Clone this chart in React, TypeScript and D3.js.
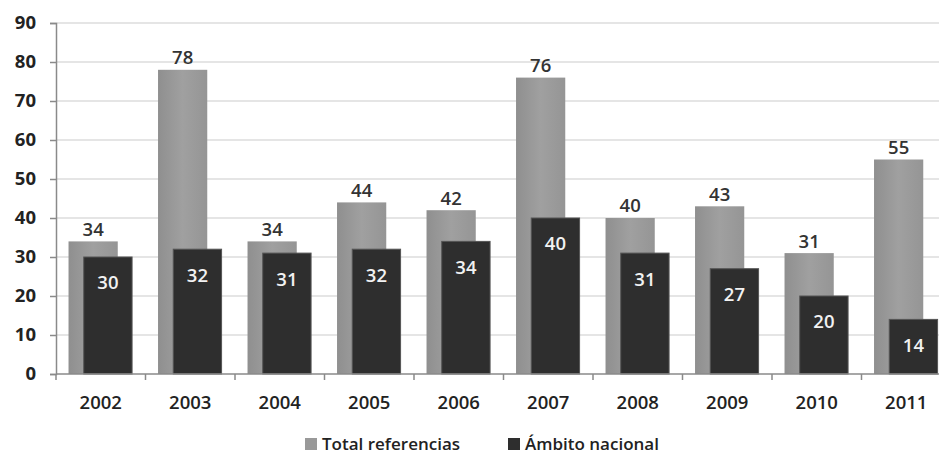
import { useEffect, useRef } from "react";
import * as d3 from "d3";

const years = ["2002", "2003", "2004", "2005", "2006", "2007", "2008", "2009", "2010", "2011"];
const totalRefs = [34, 78, 34, 44, 42, 76, 40, 43, 31, 55];
const nacional = [30, 32, 31, 32, 34, 40, 31, 27, 20, 14];
const yTicks = [0, 10, 20, 30, 40, 50, 60, 70, 80, 90];
const seriesNames = ["Total referencias", "Ámbito nacional"];

const FONT = "'Open Sans', 'DejaVu Sans', sans-serif";

export default function App() {
  const svgRef = useRef<SVGSVGElement>(null);

  useEffect(() => {
    if (!svgRef.current) return;
    const width = 947;
    const height = 462;
    const margin = { top: 23, left: 56, bottom: 88 };

    const svg = d3.select(svgRef.current);
    svg.selectAll("*").remove();
    svg.attr("width", width).attr("height", height);

    const x = d3.scaleBand<string>()
      .domain(years)
      .range([margin.left, margin.left + 89.5 * years.length]);
    const y = d3.scaleLinear()
      .domain([0, 90])
      .range([height - margin.bottom, margin.top]);
    const bw = x.bandwidth();

    // gradients
    const defs = svg.append("defs");
    const gGrey = defs.append("linearGradient").attr("id", "gGrey").attr("x1", 0).attr("x2", 1).attr("y1", 0).attr("y2", 0);
    gGrey.append("stop").attr("offset", "0%").attr("stop-color", "#8f8f8f");
    gGrey.append("stop").attr("offset", "50%").attr("stop-color", "#a0a0a0");
    gGrey.append("stop").attr("offset", "100%").attr("stop-color", "#959595");

    // grid lines
    svg.append("g")
      .selectAll("line")
      .data(yTicks.filter(d => d > 0))
      .enter()
      .append("line")
      .attr("x1", margin.left)
      .attr("x2", width)
      .attr("y1", d => y(d))
      .attr("y2", d => y(d))
      .attr("stroke", "#dcdcdc")
      .attr("stroke-width", 1.5);

    // y axis
    const yAxis = svg.append("g")
      .attr("transform", `translate(${margin.left},0)`)
      .call(d3.axisLeft(y).tickValues(yTicks).tickSize(6).tickPadding(14));
    yAxis.select(".domain").attr("stroke", "#8a8a8a").attr("stroke-width", 1.5);
    yAxis.selectAll(".tick line").attr("stroke", "#8a8a8a").attr("stroke-width", 1.5);
    yAxis.selectAll("text")
      .attr("font-family", FONT)
      .attr("font-size", 18.5)
      .attr("font-weight", 700)
      .attr("fill", "#222");

    // bars
    const groups = svg.append("g")
      .selectAll("g")
      .data(years)
      .enter()
      .append("g")
      .attr("transform", d => `translate(${x(d)},0)`);

    groups.append("rect")
      .attr("x", bw * 0.14)
      .attr("width", bw * 0.55)
      .attr("y", (_d, i) => y(totalRefs[i]))
      .attr("height", (_d, i) => y(0) - y(totalRefs[i]))
      .attr("fill", "url(#gGrey)");

    groups.append("rect")
      .attr("x", bw * 0.31)
      .attr("width", bw * 0.54)
      .attr("y", (_d, i) => y(nacional[i]))
      .attr("height", (_d, i) => y(0) - y(nacional[i]))
      .attr("fill", "#2e2e2e")
      .attr("stroke", "#555")
      .attr("stroke-width", 1);

    groups.append("text")
      .attr("x", bw * 0.14 + bw * 0.275)
      .attr("y", (_d, i) => y(totalRefs[i]) - 12)
      .attr("dy", "0.35em")
      .attr("text-anchor", "middle")
      .attr("font-family", FONT)
      .attr("font-size", 18.5)
      .attr("font-weight", 600)
      .attr("fill", "#333")
      .text((_d, i) => totalRefs[i]);

    groups.append("text")
      .attr("x", bw * 0.31 + bw * 0.27)
      .attr("y", (_d, i) => y(nacional[i]) + 26)
      .attr("dy", "0.35em")
      .attr("text-anchor", "middle")
      .attr("font-family", FONT)
      .attr("font-size", 18.5)
      .attr("font-weight", 600)
      .attr("fill", "#f2f2f2")
      .text((_d, i) => nacional[i]);

    // x axis
    const baseY = y(0);
    svg.append("line")
      .attr("x1", margin.left)
      .attr("x2", width)
      .attr("y1", baseY)
      .attr("y2", baseY)
      .attr("stroke", "#8a8a8a")
      .attr("stroke-width", 1.5);
    svg.append("g")
      .selectAll("line")
      .data(years)
      .enter()
      .append("line")
      .attr("x1", d => x(d)!)
      .attr("x2", d => x(d)!)
      .attr("y1", baseY)
      .attr("y2", baseY + 6)
      .attr("stroke", "#8a8a8a")
      .attr("stroke-width", 1.5);
    svg.append("g")
      .selectAll("text")
      .data(years)
      .enter()
      .append("text")
      .attr("x", d => x(d)! + bw / 2)
      .attr("y", baseY + 29)
      .attr("dy", "0.35em")
      .attr("text-anchor", "middle")
      .attr("font-family", FONT)
      .attr("font-size", 18.5)
      .attr("font-weight", 600)
      .attr("fill", "#222")
      .text(d => d);

    // legend
    const legendItems = [
      { name: seriesNames[0], color: "#999999", x: 305 },
      { name: seriesNames[1], color: "#2e2e2e", x: 508 },
    ];
    const lg = svg.append("g")
      .selectAll("g")
      .data(legendItems)
      .enter()
      .append("g")
      .attr("transform", d => `translate(${d.x},444)`);
    lg.append("rect")
      .attr("x", 0)
      .attr("y", -6)
      .attr("width", 12)
      .attr("height", 12)
      .attr("fill", d => d.color);
    lg.append("text")
      .attr("x", 17)
      .attr("y", 0)
      .attr("dy", "0.35em")
      .attr("font-family", FONT)
      .attr("font-size", 17)
      .attr("font-weight", 600)
      .attr("fill", "#222")
      .text(d => d.name);
  }, []);

  return (
    <div style={{ margin: -8, width: 947, height: 462, overflow: "hidden", background: "#fff" }}>
      <svg ref={svgRef} style={{ display: "block" }} />
    </div>
  );
}
